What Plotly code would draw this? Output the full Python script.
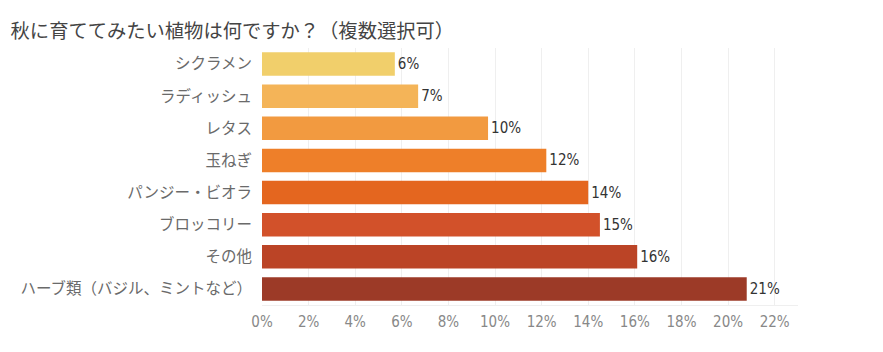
import plotly.graph_objects as go

categories = ["シクラメン", "ラディッシュ", "レタス", "玉ねぎ", "パンジー・ビオラ",
              "ブロッコリー", "その他", "ハーブ類（バジル、ミントなど）"]
values = [5.7, 6.7, 9.7, 12.2, 14.0, 14.5, 16.1, 20.8]
value_labels = ["6%", "7%", "10%", "12%", "14%", "15%", "16%", "21%"]
colors = ["#F1CF6B", "#F4B458", "#F29A40", "#EE7F29", "#E4661F",
          "#D2512A", "#BB4426", "#9C3A27"]
tick_vals = list(range(0, 23, 2))
tick_text = [f"{v}%" for v in tick_vals]

NARROW = "Liberation Sans Narrow, DejaVu Sans Condensed, serif"

fig = go.Figure(go.Bar(
    x=values, y=categories, orientation="h",
    marker=dict(color=colors, line=dict(width=0)),
    text=value_labels, textposition="outside", cliponaxis=False,
    textfont=dict(family=NARROW, size=15, color="#333333"),
    width=0.73,
))

fig.update_layout(
    width=883, height=352,
    margin=dict(l=262, r=85, t=48, b=47),
    paper_bgcolor="white", plot_bgcolor="white",
    showlegend=False,
    title=dict(text="秋に育ててみたい植物は何ですか？（複数選択可）",
               x=0.012, xanchor="left", y=0.91, yanchor="middle",
               font=dict(family="Noto Sans CJK JP", size=19.3, color="#444444")),
    xaxis=dict(range=[0, 23], tickvals=tick_vals, ticktext=tick_text,
               showgrid=True, gridcolor="#EFEFEF", gridwidth=1,
               zeroline=False, showline=True, linecolor="#EFEFEF", mirror=False,
               ticks="", ticklabelstandoff=3,
               tickfont=dict(family=NARROW, size=15, color="#888888")),
    yaxis=dict(autorange="reversed", showgrid=False, zeroline=False,
               ticks="", ticklabelstandoff=9,
               tickfont=dict(family="Noto Sans CJK JP", size=15.5, color="#6a6a6a")),
)

fig.write_html("out.html")
